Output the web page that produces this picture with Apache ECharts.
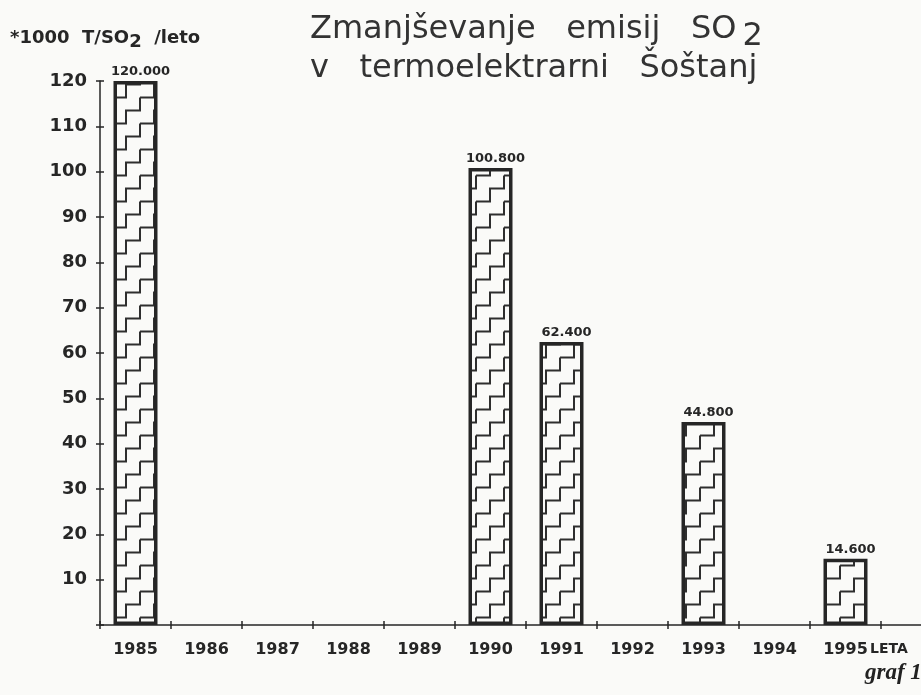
<!DOCTYPE html>
<html lang="sl">
<head>
  <meta charset="UTF-8">
  <title>Zmanjševanje emisij SO2</title>
  <script src="https://cdn.jsdelivr.net/npm/echarts@6/dist/echarts.min.js"></script>
  <style>
    html, body { margin: 0; padding: 0; background: #fafaf8; }
  </style>
</head>
<body>
  <div id="chart" style="width: 921px; height: 695px;"></div>

  <script>
    // leta in emisije (v 1000 t SO2 na leto)
    var years = ['1985', '1986', '1987', '1988', '1989', '1990', '1991', '1992', '1993', '1994', '1995', ''];
    var emissions = [120, null, null, null, null, 100.8, 62.4, null, 44.8, null, 14.6];
    var yTicks = [0, 10, 20, 30, 40, 50, 60, 70, 80, 90, 100, 110, 120];

    var ink = '#262626';

    // vzorec stopnic za polnilo stolpcev
    function stairPattern() {
      var W = 28, H = 26;
      var c = document.createElement('canvas');
      c.width = W; c.height = H;
      var ctx = c.getContext('2d');
      ctx.fillStyle = '#fafaf8';
      ctx.fillRect(0, 0, W, H);
      ctx.strokeStyle = '#2e2e2e';
      ctx.lineWidth = 2;
      for (var dx = -W; dx <= W; dx += W) {
        for (var dy = -H; dy <= H; dy += H) {
          ctx.beginPath();
          ctx.moveTo(dx + 0, dy + 19.5);
          ctx.lineTo(dx + 14, dy + 19.5);
          ctx.lineTo(dx + 14, dy + 6.5);
          ctx.lineTo(dx + 28, dy + 6.5);
          ctx.lineTo(dx + 28, dy - 6.5);
          ctx.stroke();
        }
      }
      return c;
    }

    var myChart = echarts.init(document.getElementById('chart'));

    var labelFont = { fontFamily: 'DejaVu Sans', fontWeight: 'bold', color: ink };

    myChart.setOption({
      backgroundColor: '#fafaf8',
      animation: false,
      grid: { left: 100, width: 852, top: 81, bottom: 70, outerBoundsMode: 'none', containLabel: false },
      xAxis: [{
        type: 'category',
        data: years,
        axisLine: { lineStyle: { color: ink, width: 1.5 } },
        axisTick: { show: true, length: 4, lineStyle: { color: ink, width: 1.5 } },
        axisLabel: Object.assign({ fontSize: 16, margin: 17 }, labelFont)
      }, {
        type: 'category',
        data: years,
        position: 'bottom',
        axisLine: { show: false },
        axisTick: { show: true, inside: true, length: 4, lineStyle: { color: ink, width: 1.5 } },
        axisLabel: { show: false }
      }],
      yAxis: [{
        type: 'value',
        min: yTicks[0],
        max: yTicks[yTicks.length - 1],
        interval: 10,
        splitLine: { show: false },
        axisLine: { show: true, lineStyle: { color: ink, width: 1.5 } },
        axisTick: { show: true, length: 4, lineStyle: { color: ink, width: 1.5 } },
        axisLabel: Object.assign({
          fontSize: 18,
          margin: 13,
          formatter: function (v) { return v === 0 ? '' : v; }
        }, labelFont)
      }, {
        type: 'value',
        min: yTicks[0],
        max: yTicks[yTicks.length - 1],
        interval: 10,
        position: 'left',
        splitLine: { show: false },
        axisLine: { show: false },
        axisTick: { show: true, inside: true, length: 4, lineStyle: { color: ink, width: 1.5 } },
        axisLabel: { show: false }
      }],
      series: [{
        type: 'bar',
        data: emissions,
        barWidth: 44,
        itemStyle: {
          color: { image: stairPattern(), repeat: 'repeat' },
          borderColor: ink,
          borderWidth: 3.5
        },
        label: {
          show: true,
          position: 'top',
          distance: 3,
          offset: [5, 0],
          fontFamily: 'DejaVu Sans',
          fontWeight: 'bold',
          fontSize: 13,
          color: ink,
          formatter: function (p) { return p.value.toFixed(3); }
        }
      }],
      graphic: [{
        type: 'text',
        left: 310,
        top: 10,
        style: {
          text: 'Zmanjševanje   emisij   SO{s|2}\nv   termoelektrarni   Šoštanj',
          font: '32px "DejaVu Sans"',
          fill: '#333',
          lineHeight: 39,
          rich: { s: { font: '32px "DejaVu Sans"', fill: '#333', padding: [14, 0, 0, 6] } }
        }
      }, {
        type: 'text',
        left: 10,
        top: 29,
        style: {
          text: '*1000  T/SO{s|2}  /leto',
          font: 'bold 18px "DejaVu Sans"',
          fill: ink,
          rich: { s: { font: 'bold 18px "DejaVu Sans"', fill: ink, padding: [8, 0, 0, 0] } }
        }
      }, {
        type: 'text',
        left: 870,
        top: 642,
        style: { text: 'LETA', font: 'bold 14px "DejaVu Sans"', fill: ink }
      }, {
        type: 'text',
        left: 865,
        top: 662,
        style: { text: 'graf 1', font: 'italic bold 23px "Liberation Serif"', fill: '#222' }
      }]
    });
  </script>
</body>
</html>
